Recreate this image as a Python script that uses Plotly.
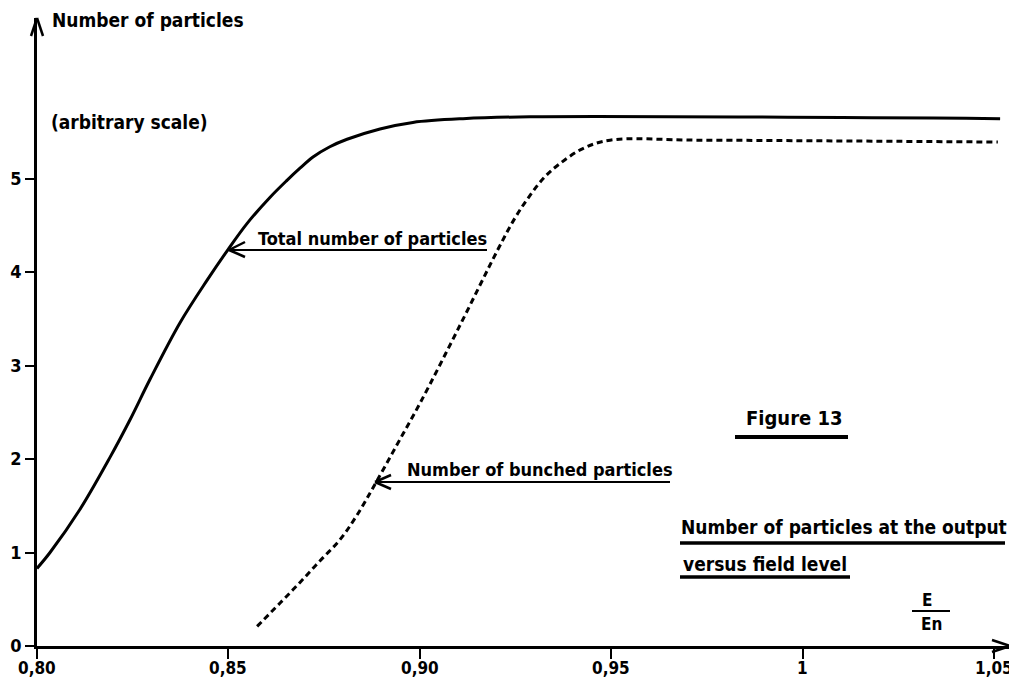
import plotly.graph_objects as go

# ---- data ----
total_x = [0.8000, 0.8034, 0.8112, 0.8191, 0.8243, 0.8295, 0.8374, 0.8444, 0.8499, 0.8549,
           0.8609, 0.8653, 0.8687, 0.8721, 0.8765, 0.8810, 0.8896, 0.8982, 0.9113, 0.9288, 1.0516]
total_y = [0.83, 1.00, 1.46, 2.02, 2.42, 2.85, 3.46, 3.91, 4.24, 4.52,
           4.80, 4.98, 5.11, 5.23, 5.34, 5.42, 5.53, 5.60, 5.64, 5.66, 5.64]

bunched_x = [0.8575, 0.8635, 0.8687, 0.8739, 0.8792, 0.8836, 0.8883, 0.8940, 0.9001, 0.9105,
             0.9204, 0.9249, 0.9288, 0.9327, 0.9366, 0.9426, 0.9497, 0.9732, 1.0510]
bunched_y = [0.21, 0.46, 0.68, 0.91, 1.14, 1.40, 1.73, 2.15, 2.60, 3.43,
             4.24, 4.58, 4.82, 5.02, 5.16, 5.32, 5.41, 5.41, 5.39]

x_tickvals = [0.80, 0.85, 0.90, 0.95, 1.00, 1.05]
x_ticktext = ["0,80", "0,85", "0,90", "0,95", "1", "1,05"]
y_tickvals = [0, 1, 2, 3, 4, 5]
y_ticktext = ["0", "1", "2", "3", "4", "5"]

# ---- layout geometry (pixels of the 1017x686 page) ----
W, H = 1017, 686
BODY = 8                       # default page body margin
FW, FH = W - BODY, H - BODY
AX_LEFT, AX_RIGHT, AX_TOP, AX_BOTTOM = 37, 1010, 18, 646   # plot area on page
PX_PER_X = 3828.0
X0 = 0.80
x_max = X0 + (AX_RIGHT - AX_LEFT) / PX_PER_X
PX_PER_Y = 93.5
y_max = (AX_BOTTOM - AX_TOP) / PX_PER_Y

ml = AX_LEFT - BODY
mt = AX_TOP - BODY
mr = FW - (AX_RIGHT - BODY)
mb = FH - (AX_BOTTOM - BODY)
PW = AX_RIGHT - AX_LEFT
PH = AX_BOTTOM - AX_TOP


def px(x):
    return (x - AX_LEFT) / PW


def py(y):
    return (AX_BOTTOM - y) / PH


FONT = "DejaVu Sans Condensed"
INK = "black"

fig = go.Figure()
fig.add_trace(go.Scatter(x=total_x, y=total_y, mode="lines",
                         line=dict(color=INK, width=3, shape="spline", smoothing=1.0),
                         hoverinfo="skip", showlegend=False))
fig.add_trace(go.Scatter(x=bunched_x, y=bunched_y, mode="lines",
                         line=dict(color=INK, width=3, dash="6px,4px", shape="spline", smoothing=1.0),
                         hoverinfo="skip", showlegend=False))

shapes = []
annotations = []


def seg(x1, y1, x2, y2, w=2.0):
    shapes.append(dict(type="line", xref="paper", yref="paper",
                       x0=px(x1), y0=py(y1), x1=px(x2), y1=py(y2),
                       line=dict(color=INK, width=w)))


def text(s, x, y, size=19, anchor="left"):
    annotations.append(dict(text="<b>" + s + "</b>", x=px(x), y=py(y), xref="paper", yref="paper",
                            xanchor=anchor, yanchor="middle", showarrow=False,
                            font=dict(family=FONT, size=size, color=INK)))


# x tick labels (under the axis)
for v, t in zip(x_tickvals, x_ticktext):
    annotations.append(dict(text="<b>" + t + "</b>", x=v, y=py(668), xref="x", yref="paper",
                            xanchor="center", yanchor="middle", showarrow=False,
                            font=dict(family=FONT, size=17, color=INK)))

# axis arrow heads
seg(37, 18, 31, 36, 2.5)
seg(37, 18, 43, 36, 2.5)
seg(1010, 646, 992, 640, 2.5)
seg(1010, 646, 992, 652, 2.5)

# axis titles
text("Number of particles", 50, 20)
text("(arbitrary scale)", 49, 122)

# Total number of particles label with arrow
text("Total number of particles", 256, 238, 18)
seg(229, 250, 487, 250, 2)
seg(229, 250, 245, 242, 2.5)
seg(229, 250, 245, 257, 2.5)

# Number of bunched particles label with arrow
text("Number of bunched particles", 405, 469, 18)
seg(375, 482, 670, 482, 2)
seg(375, 482, 391, 475, 2.5)
seg(375, 482, 391, 489, 2.5)

# Figure caption
text("Figure 13", 744, 418, 20)
seg(735, 437, 848, 437, 4)
text("Number of particles at the output", 679, 527)
seg(680, 543, 1005, 543, 3.5)
text("versus field level", 681, 564)
seg(680, 577, 850, 577, 3.5)

# E / En fraction
text("E", 927, 600, 17, "center")
seg(912, 611, 950, 611, 2)
text("En", 931, 624, 17, "center")

fig.update_layout(
    width=FW, height=FH,
    margin=dict(l=ml, r=mr, t=mt, b=mb, pad=0, autoexpand=False),
    paper_bgcolor="white", plot_bgcolor="white",
    shapes=shapes, annotations=annotations,
    xaxis=dict(range=[X0, x_max], showgrid=False, zeroline=False, showline=True,
               linecolor=INK, linewidth=2.5, ticks="outside", ticklen=10, tickwidth=2,
               tickcolor=INK, tickvals=x_tickvals, showticklabels=False, fixedrange=True),
    yaxis=dict(range=[0, y_max], showgrid=False, zeroline=False, showline=True,
               linecolor=INK, linewidth=2.5, ticks="outside", ticklen=9, tickwidth=2,
               tickcolor=INK, tickvals=y_tickvals,
               ticktext=["<b>" + t + "</b>" for t in y_ticktext],
               tickfont=dict(family=FONT, size=18, color=INK), fixedrange=True),
)

fig.write_html("out.html")
